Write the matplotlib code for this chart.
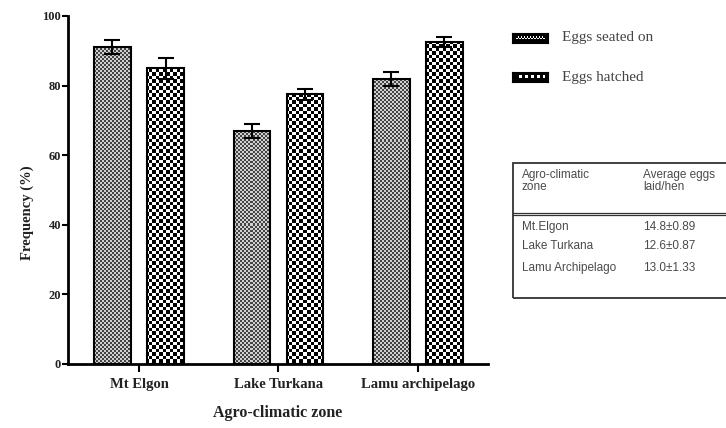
import numpy as np
import matplotlib
matplotlib.use("Agg")
import matplotlib.pyplot as plt
from matplotlib.patches import Rectangle
from matplotlib.lines import Line2D

# ── data ────────────────────────────────────────────────────────────────────
zones = ["Mt Elgon", "Lake Turkana", "Lamu archipelago"]
seated = [91.0, 67.0, 82.0]
seated_err = [2.0, 2.0, 2.0]
hatched = [85.0, 77.5, 92.5]
hatched_err = [3.0, 1.5, 1.5]
yticks = [0, 20, 40, 60, 80, 100]

table_zones = ["Mt.Elgon", "Lake Turkana", "Lamu Archipelago"]
table_eggs = ["14.8\u00b10.89", "12.6\u00b10.87", "13.0\u00b11.33"]

W, H = 726, 428
SERIF = "Liberation Serif"
SANS = "Liberation Sans"
INK = "#222222"


def fx(px):
    return px / W


def fy(py):
    return 1 - py / H


def checker(h, w, cell, c0, c1):
    i = np.arange(h)[:, None]
    j = np.arange(w)[None, :]
    m = ((np.floor(i / cell) + np.floor(j / cell)) % 2).astype(int)
    cols = np.array([matplotlib.colors.to_rgb(c0), matplotlib.colors.to_rgb(c1)])
    return cols[m]


fig = plt.figure(figsize=(W / 100, H / 100), dpi=100)
fig.patch.set_facecolor("white")

# axes box in pixels: x 68..488, y 16..364
ax = fig.add_axes([fx(68), fy(364), (488 - 68) / W, (364 - 16) / H])
XLIM = (-0.509, 2.502)
x = np.arange(len(zones))
off, bw = 0.19, 0.26

fine = checker(348, 420, 2, "#444444", "#d0d0d0")
coarse = checker(348, 420, 3.5, "#000000", "#ffffff")

bars1 = ax.bar(x - off, seated, bw, facecolor="none", edgecolor="black",
               linewidth=1.5, zorder=3)
bars2 = ax.bar(x + off, hatched, bw, facecolor="none", edgecolor="black",
               linewidth=1.5, zorder=3)
for bars, pat in [(bars1, fine), (bars2, coarse)]:
    for b in bars:
        im = ax.imshow(pat, extent=(XLIM[0], XLIM[1], 0, 100), aspect="auto",
                       interpolation="nearest", zorder=2, origin="upper")
        im.set_clip_path(b)

ax.errorbar(x - off, seated, yerr=seated_err, fmt="none", ecolor="black",
            elinewidth=1.5, capsize=6, capthick=1.5, zorder=4)
ax.errorbar(x + off, hatched, yerr=hatched_err, fmt="none", ecolor="black",
            elinewidth=1.5, capsize=6, capthick=1.5, zorder=4)

ax.set_xlim(*XLIM)
ax.set_ylim(0, 100)
ax.set_yticks(yticks)
ax.set_xticks(x)
ax.set_xticklabels(zones, fontfamily=SERIF, fontweight="bold", fontsize=10.5,
                   color=INK)
for t in ax.get_yticklabels():
    t.set_fontfamily(SERIF)
    t.set_fontweight("bold")
    t.set_fontsize(9)
    t.set_color(INK)
for s in ["top", "right"]:
    ax.spines[s].set_visible(False)
for s in ["left", "bottom"]:
    ax.spines[s].set_linewidth(2)
ax.tick_params(axis="y", length=4, width=1.5, pad=1)
ax.tick_params(axis="x", length=6, width=1.5, pad=4)

fig.text(fx(27), fy(213), "Frequency (%)", rotation=90, ha="center", va="center",
         fontfamily=SERIF, fontweight="bold", fontsize=10.5, color=INK)
fig.text(fx(278), fy(413), "Agro-climatic zone", ha="center", va="center",
         fontfamily=SERIF, fontweight="bold", fontsize=11.5, color=INK)

# ── legend ──────────────────────────────────────────────────────────────────
leg_items = [("Eggs seated on", 38, 1.5), ("Eggs hatched", 77, 3)]
for label, yc, cell in leg_items:
    sw = fig.add_axes([fx(513), fy(yc + 4.5), 35 / W, 9 / H])
    arr = np.zeros((9, 35, 3))
    row = checker(3, 29, cell, "#000000", "#ffffff")
    arr[3:6, 3:32] = row
    sw.imshow(arr, aspect="auto", interpolation="nearest")
    sw.set_xticks([])
    sw.set_yticks([])
    for s in sw.spines.values():
        s.set_linewidth(1.5)
    fig.text(fx(562), fy(yc), label, ha="left", va="center", fontfamily=SERIF,
             fontsize=11, color="#444444")

# ── inset table ─────────────────────────────────────────────────────────────
tcol = "#333333"
fig.add_artist(Rectangle((fx(513), fy(298)), fx(740) - fx(513), fy(163) - fy(298),
                         transform=fig.transFigure, facecolor="none",
                         edgecolor=tcol, linewidth=1.3))
for yy in (212.5, 215):
    fig.add_artist(Line2D([fx(513), fx(740)], [fy(yy), fy(yy)],
                          transform=fig.transFigure, color=tcol, linewidth=0.9))
tkw = dict(ha="left", va="center", fontfamily=SANS, fontsize=8.5,
           color="#4a4a4a")
fig.text(fx(522), fy(175), "Agro-climatic", **tkw)
fig.text(fx(522), fy(187), "zone", **tkw)
fig.text(fx(643), fy(175), "Average eggs", **tkw)
fig.text(fx(643), fy(187), "laid/hen", **tkw)
for zname, eggs, yy in zip(table_zones, table_eggs, [227, 246, 268]):
    fig.text(fx(522), fy(yy), zname, **tkw)
    fig.text(fx(643), fy(yy), eggs, **tkw)

fig.savefig("out.png", dpi=100, facecolor="white")
